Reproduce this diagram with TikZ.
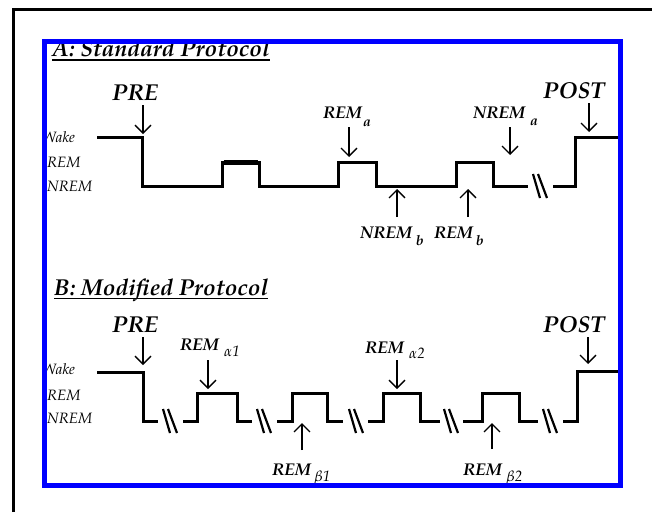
\documentclass[tikz,border=0pt]{standalone}
\usepackage{fontspec}
\setmainfont{texgyrepagella}[Extension=.otf, UprightFont=*-regular, BoldFont=*-bold, ItalicFont=*-italic, BoldItalicFont=*-bolditalic]
\usetikzlibrary{arrows.meta}
\newcommand\brkmark[2]{%
  \draw[brk] ({#1-7},{#2-12}) -- ({#1},{#2+12});
  \draw[brk] ({#1-2},{#2-12}) -- ({#1+7},{#2+12});}
\begin{document}
\begin{tikzpicture}[x=1pt,y=-1pt,
  trace/.style={line width=3pt, line join=miter, line cap=butt},
  brk/.style={line width=2.2pt},
  pointer/.style={line width=1.3pt, -{Straight Barb[length=8pt,width=16pt]}},
  stage/.style={font=\fontsize{15}{15}\selectfont\itshape, anchor=base west, inner sep=0},
  lbl/.style={font=\fontsize{17}{17}\selectfont\bfseries\itshape, anchor=base west, inner sep=0},
  sublbl/.style={font=\fontsize{14}{14}\selectfont\bfseries\itshape, anchor=base west, inner sep=0},
  grklbl/.style={font=\fontsize{15}{15}\selectfont\itshape, anchor=base west, inner sep=0},
  biglbl/.style={font=\fontsize{23}{23}\selectfont\bfseries\itshape, anchor=base west, inner sep=0},
  ttl/.style={font=\fontsize{23}{23}\selectfont\bfseries\itshape, anchor=base west, inner sep=0},
  uline/.style={line width=1.5pt},
]
\useasboundingbox (0,0) rectangle (652,512);
\fill[white] (0,0) rectangle (652,512);
% outer frame
\draw[line width=2.5pt] (13.5,512) -- (13.5,9.5) -- (652,9.5);

% ---------- Panel A ----------
\node[ttl] (tA) at (52,56.5) {A: Standard Protocol};
\draw[uline] ([yshift=-3.5pt]tA.base west) -- ([yshift=-3.5pt]tA.base east);
\node[stage] (wA) at (42,142) {Wake};
\node[stage] (rA) at (47,167) {REM};
\node[stage] (nA) at (47,191) {NREM};

\draw[trace] (97,137) -- (142,137) -- (142,186) -- (222,186) -- (222,162) -- (259,162) -- (259,186)
  -- (338,186) -- (338,162) -- (376,162) -- (376,186) -- (456,186) -- (456,162) -- (493,162)
  -- (493,186) -- (528,186);
\draw[line width=4.5pt] (223.5,162.5) -- (257.5,162.5);
\brkmark{540}{186}
\draw[trace] (553,186) -- (575,186) -- (575,137) -- (618,137);

\node[biglbl] (preA) at (112,100) {PRE};
\coordinate (preAs) at (143,105); \coordinate (preAe) at (143,134);
\draw[pointer] (preAs) -- (preAe);

\node[lbl] (remaA) at (323,118) {REM};
\node[sublbl] (remaAs) at (363,126) {a};
\coordinate (remaS) at (349,127); \coordinate (remaE) at (349,157);
\draw[pointer] (remaS) -- (remaE);

\node[lbl] (nremaA) at (473,118) {NREM};
\node[sublbl] (nremaAs) at (530,125) {a};
\coordinate (nremaS) at (510,127); \coordinate (nremaE) at (510,155);
\draw[pointer] (nremaS) -- (nremaE);

\node[biglbl] (postA) at (543,98) {POST};
\coordinate (postAs) at (589,103); \coordinate (postAe) at (589,132);
\draw[pointer] (postAs) -- (postAe);

\node[lbl] (nrembA) at (360,238) {NREM};
\node[sublbl] (nrembAs) at (416,245) {b};
\coordinate (nrembS) at (397,217); \coordinate (nrembE) at (397,189);
\draw[pointer] (nrembS) -- (nrembE);

\node[lbl] (rembA) at (434,238) {REM};
\node[sublbl] (rembAs) at (476,245) {b};
\coordinate (rembS) at (468,217); \coordinate (rembE) at (468,189);
\draw[pointer] (rembS) -- (rembE);

% ---------- Panel B ----------
\node[ttl] (tB) at (54,295) {B: Modified Protocol};
\draw[uline] ([yshift=-3.5pt]tB.base west) -- ([yshift=-3.5pt]tB.base east);
\node[stage] (wB) at (42,374) {Wake};
\node[stage] (rB) at (47,400) {REM};
\node[stage] (nB) at (47,423) {NREM};

\draw[trace] (97,372) -- (143,372) -- (143,421) -- (158,421);
\brkmark{170}{421}
\draw[trace] (183,421) -- (197,421) -- (197,393) -- (237,393) -- (237,421) -- (252,421);
\brkmark{264}{421}
\draw[trace] (277,421) -- (292,421) -- (292,393) -- (327,393) -- (327,421) -- (343,421);
\brkmark{356}{421}
\draw[trace] (368,421) -- (383,421) -- (383,393) -- (420,393) -- (420,421) -- (440,421);
\brkmark{451}{421}
\draw[trace] (463,421) -- (482,421) -- (482,393) -- (519,393) -- (519,421) -- (538,421);
\brkmark{550}{421}
\draw[trace] (563,421) -- (577,421) -- (577,371) -- (618,371);

\node[biglbl] (preB) at (112,332) {PRE};
\coordinate (preBs) at (143,337); \coordinate (preBe) at (143,365);
\draw[pointer] (preBs) -- (preBe);

\node[lbl] (ra1) at (180,350) {REM};
\node[grklbl] (ra1s) at (224,356) {α1};
\coordinate (ra1S) at (208,360); \coordinate (ra1E) at (208,389);
\draw[pointer] (ra1S) -- (ra1E);

\node[lbl] (rb1) at (272,475) {REM};
\node[grklbl] (rb1s) at (314,481) {β1};
\coordinate (rb1S) at (302,450); \coordinate (rb1E) at (302,423);
\draw[pointer] (rb1S) -- (rb1E);

\node[lbl] (ra2) at (365,353) {REM};
\node[grklbl] (ra2s) at (409,358) {α2};
\coordinate (ra2S) at (397,360); \coordinate (ra2E) at (397,389);
\draw[pointer] (ra2S) -- (ra2E);

\node[lbl] (rb2) at (463,475) {REM};
\node[grklbl] (rb2s) at (506,481) {β2};
\coordinate (rb2S) at (492,449); \coordinate (rb2E) at (492,423);
\draw[pointer] (rb2S) -- (rb2E);

\node[biglbl] (postB) at (543,332) {POST};
\coordinate (postBs) at (588,337); \coordinate (postBe) at (588,364);
\draw[pointer] (postBs) -- (postBe);

% blue frame on top
\draw[blue, line width=5pt] (44.5,41) rectangle (620.5,485.5);
\end{tikzpicture}
\end{document}
